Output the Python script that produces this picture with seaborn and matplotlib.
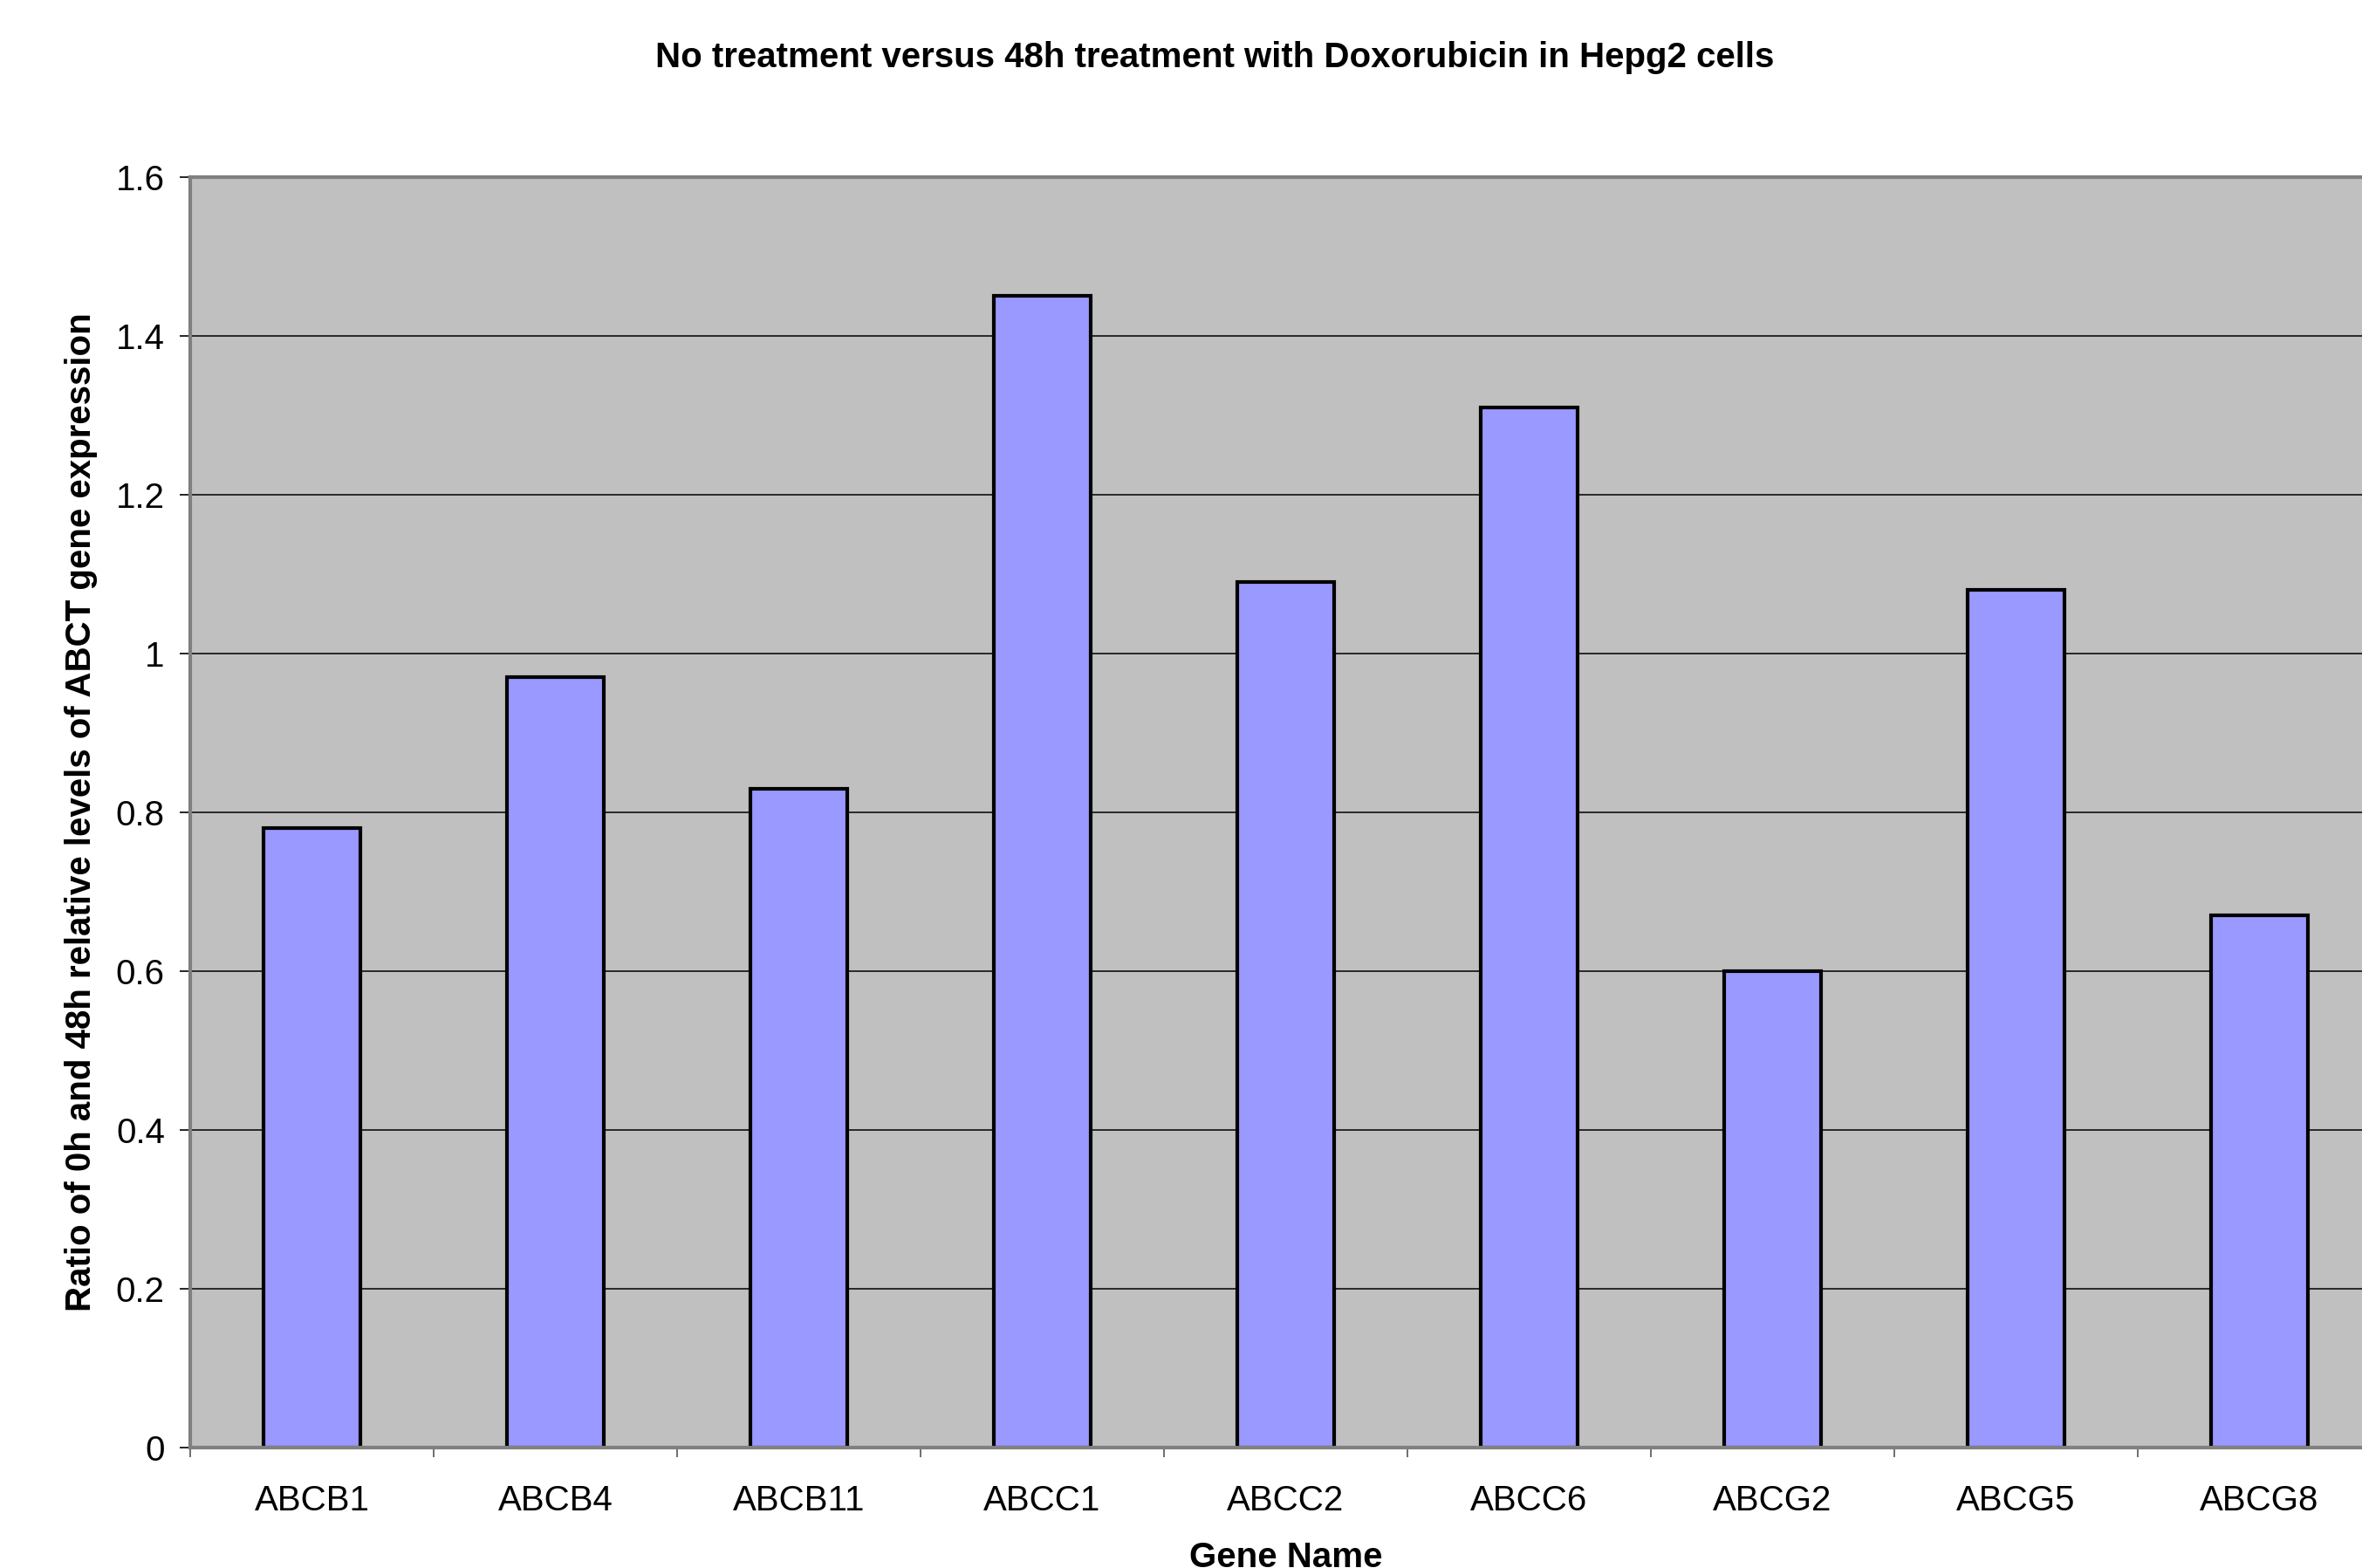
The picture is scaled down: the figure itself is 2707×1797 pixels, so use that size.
import numpy as np
import pandas as pd
import matplotlib
matplotlib.use("Agg")
import matplotlib.pyplot as plt
import seaborn as sns

genes = ["ABCB1", "ABCB4", "ABCB11", "ABCC1", "ABCC2", "ABCC6", "ABCG2", "ABCG5", "ABCG8"]
ratios = [0.78, 0.97, 0.83, 1.45, 1.09, 1.31, 0.60, 1.08, 0.67]
y_ticks = [0, 0.2, 0.4, 0.6, 0.8, 1.0, 1.2, 1.4, 1.6]
y_tick_labels = ["0", "0.2", "0.4", "0.6", "0.8", "1", "1.2", "1.4", "1.6"]

sns.set_theme(style="white")
plt.rcParams["font.family"] = ["Liberation Sans", "DejaVu Sans"]
plt.rcParams["text.color"] = "black"
plt.rcParams["axes.labelcolor"] = "black"
plt.rcParams["xtick.color"] = "black"
plt.rcParams["ytick.color"] = "black"

df = pd.DataFrame({"gene": genes, "ratio": ratios})

W, H = 2707, 1797
fig = plt.figure(figsize=(W / 100, H / 100), dpi=100)
ax = fig.add_axes([218 / W, 138 / H, (2729 - 218) / W, (1659 - 203) / H])
ax.set_facecolor("#C0C0C0")

sns.barplot(data=df, x="gene", y="ratio", order=genes, color="#9999FF",
            saturation=1, width=0.4, edgecolor="black", linewidth=3, ax=ax)

ax.set_xlim(-0.5, len(genes) - 0.5)
ax.set_ylim(0, 1.6)
ax.set_yticks(y_ticks)
ax.set_yticklabels(y_tick_labels)
ax.set_axisbelow(True)
ax.yaxis.grid(True, color="black", linewidth=1.1)
ax.xaxis.grid(False)

ax.tick_params(axis="y", which="major", length=9, width=1.2, color="black",
               pad=12, labelsize=29, labelcolor="black", left=True)
ax.tick_params(axis="x", which="major", length=0, pad=30, labelsize=29,
               labelcolor="black")
ax.set_xticks(np.arange(-0.5, len(genes), 1), minor=True)
ax.tick_params(axis="x", which="minor", length=8, width=1.2, color="#555555",
               bottom=True)

for side in ["left", "top", "bottom"]:
    ax.spines[side].set_visible(True)
    ax.spines[side].set_color("#808080")
    ax.spines[side].set_linewidth(3)
ax.spines["right"].set_visible(False)

ax.set_xlabel("Gene Name", fontsize=29, fontweight="bold", labelpad=20,
              color="black")
ax.set_ylabel("Ratio of 0h and 48h relative levels of ABCT gene expression",
              fontsize=29, fontweight="bold", labelpad=15, color="black")

fig.text(1392 / W, 1 - 66 / H,
         "No treatment versus 48h treatment with Doxorubicin in Hepg2 cells",
         ha="center", va="center", fontsize=29, fontweight="bold", color="black")

fig.savefig("out.png", dpi=100)
